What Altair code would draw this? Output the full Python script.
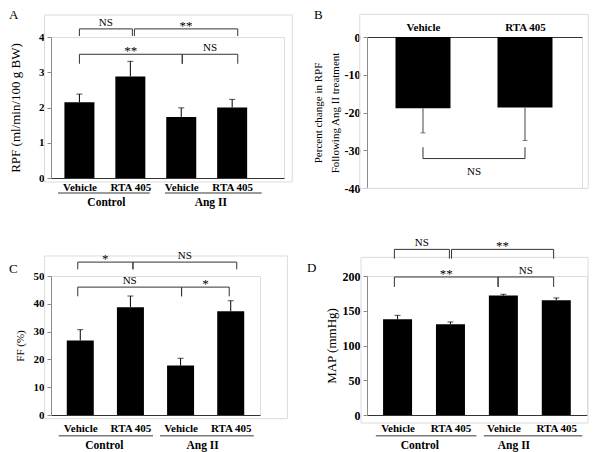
import json
import altair as alt
import pandas as pd

FONT = "Liberation Serif"

bar_labels = ["Vehicle", "RTA 405", "Vehicle", "RTA 405"]
group_labels = ["Control", "Ang II"]

# Panel A: RPF
rpf_values = [2.15, 2.88, 1.73, 2.00]
rpf_errors = [0.23, 0.43, 0.26, 0.23]
rpf_ticks = [0, 1, 2, 3, 4]
# (label, from, to, line level, leg end)
rpf_brackets = [("NS", 0.0, 1.04, 4.23, 4.03), ("**", 1.08, 3.11, 4.23, 4.03),
                ("**", 0.0, 2.02, 3.51, 3.24), ("NS", 2.02, 3.11, 3.51, 3.24)]

# Panel B: percent change in RPF
pct_labels = ["Vehicle", "RTA 405"]
pct_values = [-18.9, -18.7]
pct_errors = [6.5, 8.7]
pct_ticks = [0, -10, -20, -30, -40]
pct_brackets = [("NS", 0.0, 1.0, -32.2, -29.2)]

# Panel C: FF
ff_values = [26.8, 38.8, 17.8, 37.3]
ff_errors = [3.9, 4.0, 2.6, 3.8]
ff_ticks = [0, 10, 20, 30, 40, 50]
ff_brackets = [("*", -0.05, 1.05, 55.0, 52.4), ("NS", 1.05, 3.12, 55.0, 52.4),
               ("NS", -0.05, 2.02, 46.0, 42.7), ("*", 2.02, 2.97, 46.0, 42.7)]

# Panel D: MAP
map_values = [137.8, 130.6, 171.8, 165.1]
map_errors = [5.6, 3.3, 1.9, 3.3]
map_ticks = [0, 50, 100, 150, 200]
map_brackets = [("NS", -0.06, 0.98, 238.3, 225.0), ("**", 1.02, 2.95, 238.3, 225.0),
                ("**", -0.06, 1.9, 198.6, 184.3), ("NS", 1.9, 2.95, 198.6, 184.3)]


def panel(letter, labels, values, errors, ticks, brackets, *, x_domain, y_domain,
          width, height, bar_size, cap_size, y_title, title_size, title_x,
          tick_size_font, x_orient, label_pad, letter_pos, frame, groups=None,
          err_color="black", ns_below=False, line_height=14):
    n = len(values)
    xs = alt.Scale(domain=x_domain, nice=False, zero=False)
    ys = alt.Scale(domain=y_domain, nice=False, zero=False)

    bars = pd.DataFrame({
        "pos": list(range(n)),
        "value": values,
        "tip": [v + (e if v >= 0 else -e) for v, e in zip(values, errors)],
    })

    x_axis = alt.Axis(orient=x_orient, values=list(range(n)),
                      labelExpr=f"{json.dumps(labels)}[datum.value]",
                      ticks=False, tickSize=0, grid=False, domainColor="#333333",
                      domainWidth=1, labelFont=FONT, labelFontWeight="bold",
                      labelFontSize=11, labelColor="black", labelPadding=label_pad,
                      labelOverlap=False, labelFlush=False, title=None)
    y_axis = alt.Axis(values=ticks, labelExpr="'' + datum.value", grid=False,
                      domainColor="#8a8a8a", tickColor="#8a8a8a", tickSize=4,
                      labelFont=FONT, labelFontWeight="bold", labelFontSize=tick_size_font,
                      labelColor="black", labelPadding=3, labelOverlap=False,
                      labelFlush=False, title=y_title, titleFont=FONT,
                      titleFontWeight="normal", titleFontSize=title_size,
                      titleColor="black", titleAngle=270, titleBaseline="bottom",
                      titleX=title_x, titleY=height / 2, titleLineHeight=line_height)

    def X(field):
        return alt.X(field, scale=xs, axis=x_axis)

    def Y(field):
        return alt.Y(field, scale=ys, axis=y_axis)

    base = alt.Chart(bars)
    bar_layer = base.mark_bar(color="black", size=bar_size, orient="vertical").encode(
        x=X("pos:Q"), y=Y("value:Q"))
    err_layer = base.mark_rule(color=err_color, strokeWidth=1).encode(
        x=X("pos:Q"), y=Y("value:Q"), y2="tip:Q")
    cap_layer = base.mark_tick(color=err_color, orient="horizontal", size=cap_size, thickness=1).encode(
        x=X("pos:Q"), y=Y("tip:Q"))

    frame_df = pd.DataFrame({"x": [frame[0]], "x2": [frame[1]], "y": [frame[2]], "y2": [frame[3]]})
    frame_layer = alt.Chart(frame_df).mark_rect(fillOpacity=0, stroke="#dcdcdc", strokeWidth=1).encode(
        x=X("x:Q"), x2="x2:Q", y=Y("y:Q"), y2="y2:Q")

    seg_rows = []
    for lab, a, b, lvl, leg in brackets:
        seg_rows += [dict(x=a, x2=b, y=lvl, y2=lvl),
                     dict(x=a, x2=a, y=lvl, y2=leg),
                     dict(x=b, x2=b, y=lvl, y2=leg)]
    seg_layer = alt.Chart(pd.DataFrame(seg_rows)).mark_rule(color="#333333", strokeWidth=1).encode(
        x=X("x:Q"), x2="x2:Q", y=Y("y:Q"), y2="y2:Q")

    lab_df = pd.DataFrame([dict(t=lab, x=(a + b) / 2, y=lvl) for lab, a, b, lvl, leg in brackets])
    if ns_below:
        ns_layer = alt.Chart(lab_df).transform_filter("datum.t == 'NS'").mark_text(
            font=FONT, fontSize=11, baseline="middle", dy=13.5, color="black").encode(
            x=X("x:Q"), y=Y("y:Q"), text="t:N")
    else:
        ns_layer = alt.Chart(lab_df).transform_filter("datum.t == 'NS'").mark_text(
            font=FONT, fontSize=11, baseline="alphabetic", dy=-3, color="black").encode(
            x=X("x:Q"), y=Y("y:Q"), text="t:N")
    star_layer = alt.Chart(lab_df).transform_filter("datum.t != 'NS'").mark_text(
        font=FONT, fontSize=13, baseline="alphabetic", dy=1, color="black").encode(
        x=X("x:Q"), y=Y("y:Q"), text="t:N")

    letter_layer = alt.Chart(pd.DataFrame({"t": [letter]})).mark_text(
        font=FONT, fontSize=13, align="left", baseline="top", color="black").encode(
        x=alt.value(letter_pos[0]), y=alt.value(letter_pos[1]), text="t:N")

    layers = [bar_layer, frame_layer, err_layer, cap_layer, seg_layer, ns_layer, star_layer]

    if groups is not None:
        spans, label_x, rule_y, label_y = groups
        grp_df = pd.DataFrame({"g": group_labels,
                               "x": [s[0] for s in spans], "x2": [s[1] for s in spans],
                               "lx": label_x, "y": [rule_y] * 2, "ly": [label_y] * 2})
        grp_rule = alt.Chart(grp_df).mark_rule(color="#7a7a7a", strokeWidth=1.5).encode(
            x=X("x:Q"), x2="x2:Q", y=Y("y:Q"))
        grp_text = alt.Chart(grp_df).mark_text(font=FONT, fontSize=11.5, fontWeight="bold",
                                               baseline="middle", color="black").encode(
            x=X("lx:Q"), y=Y("ly:Q"), text="g:N")
        layers += [grp_rule, grp_text]

    layers.append(letter_layer)
    return alt.layer(*layers).properties(width=width, height=height)


chart_a = panel("A", bar_labels, rpf_values, rpf_errors, rpf_ticks, rpf_brackets,
                x_domain=[-0.46, 3.92], y_domain=[0, 4], width=233, height=141,
                bar_size=30, cap_size=6, y_title="RPF (ml/min/100 g BW)", title_size=13,
                title_x=-29, tick_size_font=11, x_orient="bottom", label_pad=3,
                letter_pos=(-42, -28), frame=(-0.686, 4.18, -0.113, 4.624),
                groups=([(-0.42, 1.38), (1.68, 3.58)], [0.53, 2.58], -0.426, -0.709))

chart_b = panel("B", pct_labels, pct_values, pct_errors, pct_ticks, pct_brackets,
                x_domain=[-0.5, 1.51], y_domain=[-40, 0], width=215, height=151,
                bar_size=55, cap_size=5, y_title=["Percent change in RPF", "Following Ang II treatment"],
                title_size=11, title_x=-43.5, tick_size_font=12, x_orient="top", label_pad=5,
                letter_pos=(-53, -28), frame=(-0.62, 1.62, -40.1, 6.0),
                err_color="#444444", ns_below=True, line_height=17)

chart_c = panel("C", bar_labels, ff_values, ff_errors, ff_ticks, ff_brackets,
                x_domain=[-0.484, 3.484], y_domain=[0, 50], width=209, height=139,
                bar_size=27, cap_size=6, y_title="FF (%)", title_size=11,
                title_x=-25.5, tick_size_font=11, x_orient="bottom", label_pad=7,
                letter_pos=(-42, -13), frame=(-0.71, 4.13, -1.3, 57.2),
                groups=([(-0.43, 1.45), (1.59, 3.46)], [0.48, 2.44], -7.43, -11.3))

chart_d = panel("D", bar_labels, map_values, map_errors, map_ticks, map_brackets,
                x_domain=[-0.483, 3.486], y_domain=[0, 200], width=220, height=139,
                bar_size=29, cap_size=6, y_title="MAP (mmHg)", title_size=13,
                title_x=-28.5, tick_size_font=12, x_orient="bottom", label_pad=7,
                letter_pos=(-60, -14), frame=(-0.69, 3.6, -11.5, 226.8),
                groups=([(-0.41, 1.49), (1.63, 3.49)], [0.42, 2.2], -29.7, -44.5))

chart = alt.concat(chart_a, chart_b, chart_c, chart_d, columns=2,
                   spacing={"row": 88, "column": 83}, bounds="flush").properties(
    padding=0
).configure_view(strokeWidth=0).configure(background="white")

chart.save("out.html", embed_options={"renderer": "svg", "actions": False})
